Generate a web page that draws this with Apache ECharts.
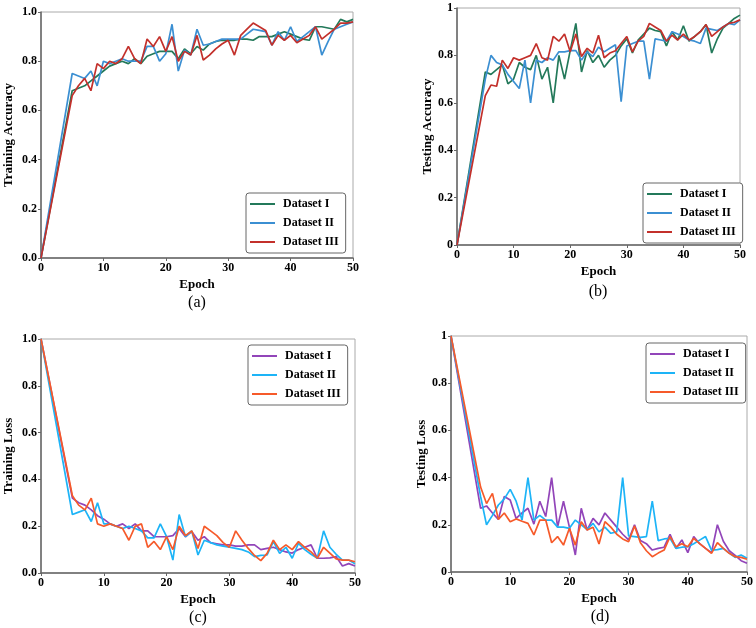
<!DOCTYPE html>
<html><head><meta charset="utf-8">
<script src="https://cdn.jsdelivr.net/npm/echarts@6/dist/echarts.min.js"></script>
<style>html,body{margin:0;padding:0;background:#fff}#c{width:756px;height:628px}</style>
</head><body><div id="c"></div>
<script>
const epochs = [0, 5,6,7,8,9, 10,11,12,13,14, 15,16,17,18,19, 20,21,22,23,24, 25,26,27,28,29, 30,31,32,33,34, 35,36,37,38,39, 40,41,42,43,44, 45,46,47,48,49, 50];
const xTicks = [0,10,20,30,40,50];
const legendNames = ['Dataset I','Dataset II','Dataset III'];

const trainAccI = [0.0, 0.68,0.69,0.70,0.72,0.74, 0.76,0.78,0.79,0.80,0.79, 0.81,0.79,0.82,0.83,0.84, 0.84,0.84,0.81,0.85,0.83, 0.86,0.845,0.87,0.88,0.885, 0.885,0.885,0.89,0.89,0.885, 0.90,0.90,0.90,0.91,0.92, 0.91,0.90,0.89,0.885,0.94, 0.94,0.935,0.93,0.97,0.96, 0.97];
const trainAccII = [0.0, 0.75,0.74,0.73,0.76,0.70, 0.80,0.79,0.80,0.81,0.80, 0.80,0.80,0.86,0.86,0.80, 0.83,0.95,0.76,0.845,0.825, 0.93,0.865,0.87,0.88,0.89, 0.89,0.89,0.89,0.91,0.93, 0.925,0.92,0.865,0.92,0.885, 0.94,0.88,0.90,0.92,0.94, 0.825,0.88,0.93,0.94,0.95, 0.96];
const trainAccIII = [0.0, 0.66,0.70,0.73,0.68,0.79, 0.77,0.80,0.79,0.81,0.86, 0.81,0.79,0.89,0.86,0.90, 0.84,0.90,0.80,0.84,0.825, 0.905,0.805,0.825,0.85,0.87, 0.885,0.825,0.905,0.93,0.955, 0.94,0.925,0.865,0.905,0.885, 0.905,0.875,0.89,0.905,0.94, 0.89,0.91,0.93,0.955,0.955, 0.96];

const testAccI = [0.0, 0.73,0.72,0.74,0.76,0.68, 0.70,0.77,0.75,0.74,0.80, 0.70,0.75,0.60,0.80,0.70, 0.82,0.935,0.73,0.82,0.77, 0.80,0.75,0.78,0.80,0.84, 0.87,0.81,0.865,0.89,0.915, 0.905,0.90,0.84,0.90,0.865, 0.925,0.86,0.88,0.90,0.93, 0.81,0.87,0.915,0.935,0.956, 0.97];
const testAccII = [0.0, 0.70,0.80,0.77,0.76,0.72, 0.69,0.66,0.78,0.60,0.78, 0.77,0.79,0.78,0.815,0.815, 0.82,0.82,0.78,0.815,0.795, 0.835,0.815,0.83,0.845,0.605, 0.84,0.85,0.86,0.86,0.70, 0.87,0.865,0.86,0.90,0.89, 0.88,0.865,0.86,0.85,0.915, 0.91,0.905,0.92,0.935,0.93, 0.95];
const testAccIII = [0.0, 0.63,0.675,0.67,0.78,0.745, 0.79,0.78,0.79,0.80,0.85, 0.79,0.78,0.88,0.86,0.89, 0.815,0.89,0.795,0.83,0.81, 0.885,0.79,0.81,0.82,0.85, 0.88,0.815,0.86,0.88,0.935, 0.92,0.905,0.86,0.885,0.865, 0.89,0.865,0.88,0.90,0.93, 0.88,0.90,0.92,0.935,0.94, 0.95];

const trainLossI = [1.0, 0.32,0.30,0.29,0.27,0.245, 0.23,0.21,0.20,0.21,0.19, 0.21,0.18,0.18,0.155,0.155, 0.155,0.16,0.19,0.155,0.177, 0.14,0.155,0.13,0.125,0.12, 0.12,0.115,0.115,0.12,0.12, 0.10,0.105,0.11,0.10,0.09, 0.085,0.10,0.11,0.12,0.063, 0.063,0.065,0.07,0.03,0.04, 0.03];
const trainLossII = [1.0, 0.25,0.26,0.27,0.22,0.30, 0.21,0.21,0.20,0.19,0.20, 0.19,0.18,0.15,0.15,0.21, 0.155,0.055,0.25,0.155,0.18, 0.077,0.14,0.13,0.12,0.115, 0.11,0.105,0.10,0.09,0.07, 0.075,0.077,0.134,0.084,0.11, 0.063,0.127,0.10,0.08,0.063, 0.18,0.11,0.08,0.055,0.055, 0.04];
const trainLossIII = [1.0, 0.33,0.29,0.27,0.32,0.21, 0.20,0.21,0.20,0.19,0.14, 0.20,0.21,0.11,0.135,0.10, 0.155,0.10,0.20,0.16,0.18, 0.105,0.20,0.18,0.16,0.13, 0.11,0.18,0.14,0.105,0.075, 0.053,0.084,0.14,0.10,0.12, 0.10,0.134,0.11,0.09,0.063, 0.11,0.085,0.06,0.055,0.055, 0.048];

const testLossI = [1.0, 0.27,0.28,0.25,0.223,0.32, 0.305,0.227,0.25,0.27,0.203, 0.30,0.235,0.40,0.19,0.30, 0.19,0.072,0.27,0.178,0.227, 0.20,0.25,0.22,0.19,0.16, 0.136,0.20,0.133,0.12,0.093, 0.10,0.105,0.16,0.10,0.136, 0.082,0.15,0.12,0.10,0.082, 0.20,0.13,0.09,0.07,0.048, 0.037];
const testLossII = [1.0, 0.32,0.20,0.24,0.284,0.31, 0.35,0.30,0.22,0.40,0.22, 0.24,0.22,0.22,0.19,0.19, 0.185,0.22,0.20,0.18,0.206, 0.17,0.19,0.164,0.17,0.40, 0.153,0.15,0.147,0.15,0.30, 0.133,0.14,0.143,0.10,0.105, 0.107,0.12,0.135,0.15,0.093, 0.095,0.10,0.08,0.062,0.072, 0.058];
const testLossIII = [1.0, 0.36,0.29,0.333,0.223,0.25, 0.213,0.225,0.215,0.206,0.157, 0.22,0.22,0.124,0.15,0.114, 0.185,0.114,0.213,0.178,0.19, 0.119,0.213,0.19,0.16,0.14, 0.128,0.195,0.124,0.09,0.065, 0.08,0.093,0.15,0.107,0.12, 0.107,0.143,0.12,0.10,0.079, 0.124,0.10,0.079,0.065,0.062, 0.054];

const FONT = '"Liberation Serif","Times New Roman",serif';
const accColors = ['#23795a','#3b8fd2','#c3302b'];
const lossColors = ['#9245b9','#1db4f7','#f65a2a'];

const panels = [
  {key:'a', grid:{left:41, top:12, width:312, height:246}, ytitle:'Training Accuracy', oneDec:true,
   data:[trainAccI,trainAccII,trainAccIII], colors:accColors, legend:{left:246, top:193}, label:{x:197, y:303}},
  {key:'b', grid:{left:457, top:8, width:283, height:237}, ytitle:'Testing Accuracy', oneDec:false,
   data:[testAccI,testAccII,testAccIII], colors:accColors, legend:{left:643, top:183}, label:{x:598, y:292}},
  {key:'c', grid:{left:41, top:339, width:314, height:234}, ytitle:'Training Loss', oneDec:true,
   data:[trainLossI,trainLossII,trainLossIII], colors:lossColors, legend:{left:248, top:345}, label:{x:198, y:618}},
  {key:'d', grid:{left:451, top:336, width:297, height:236}, ytitle:'Testing Loss', oneDec:false,
   data:[testLossI,testLossII,testLossIII], colors:lossColors, legend:{left:646, top:343}, label:{x:600, y:617}}
];

const option = {animation:false, backgroundColor:'#fff', grid:[], xAxis:[], yAxis:[], series:[], legend:[], graphic:[]};
const axisLineStyle = {color:'#666', width:1.5};
panels.forEach((p, i) => {
  option.grid.push(Object.assign({show:true, borderColor:'#aaa', borderWidth:1, backgroundColor:'transparent'}, p.grid));
  option.xAxis.push({gridIndex:i, type:'value', min:0, max:50, interval:10,
    name:'Epoch', nameLocation:'middle', nameGap:20,
    nameTextStyle:{fontFamily:FONT, fontWeight:'bold', fontSize:13, color:'#000'},
    axisLine:{show:true, onZero:false, lineStyle:axisLineStyle},
    axisTick:{show:true, length:3, lineStyle:{color:'#666'}},
    axisLabel:{fontFamily:FONT, fontWeight:'bold', fontSize:12, color:'#000', margin:4,
      formatter: v => xTicks.includes(v) ? String(v) : ''},
    splitLine:{show:false}});
  option.yAxis.push({gridIndex:i, type:'value', min:0, max:1, interval:0.2,
    name:p.ytitle, nameLocation:'middle', nameGap:p.oneDec ? 26 : 20,
    nameTextStyle:{fontFamily:FONT, fontWeight:'bold', fontSize:13, color:'#000'},
    axisLine:{show:true, onZero:false, lineStyle:axisLineStyle},
    axisTick:{show:true, length:3, lineStyle:{color:'#666'}},
    axisLabel:{fontFamily:FONT, fontWeight:'bold', fontSize:12, color:'#000', margin:4,
      formatter: v => p.oneDec ? v.toFixed(1) : (v === 0 ? '0' : (Math.abs(v-1) < 1e-9 ? '1' : v.toFixed(1)))},
    splitLine:{show:false}});
  const names = [];
  p.data.forEach((arr, j) => {
    const nm = p.key + '|' + legendNames[j];
    names.push({name:nm, icon:'rect', itemStyle:{color:p.colors[j]}});
    option.series.push({type:'line', name:nm, xAxisIndex:i, yAxisIndex:i,
      data: epochs.map((e, k) => [e, arr[k]]),
      symbol:'none', showSymbol:false, lineStyle:{width:1.7, color:p.colors[j]}, itemStyle:{color:p.colors[j]}, z:3+j});
  });
  option.legend.push({data:names, orient:'vertical', left:p.legend.left, top:p.legend.top,
    selectedMode:false, itemWidth:25, itemHeight:2, itemGap:5,
    padding:[4,7,4,4], borderColor:'#666', borderWidth:1, borderRadius:3, backgroundColor:'#fff',
    formatter: n => n.split('|')[1],
    textStyle:{fontFamily:FONT, fontWeight:'bold', fontSize:12, color:'#000', lineHeight:14, padding:[0,0,0,3]}});
  option.graphic.push({type:'text', x:p.label.x, y:p.label.y, style:{text:'('+p.key+')', font:'16px '+FONT, fill:'#000', align:'center', verticalAlign:'middle'}});
});
const chart = echarts.init(document.getElementById('c'), null, {renderer:'canvas'});
chart.setOption(option);
</script>
</body></html>
